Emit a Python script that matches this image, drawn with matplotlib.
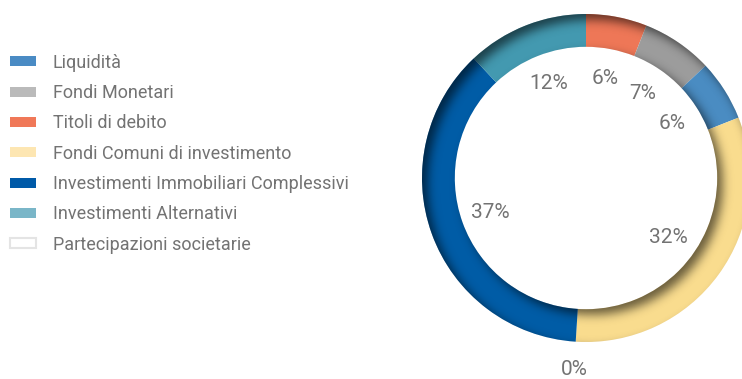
import matplotlib
matplotlib.use("Agg")
import matplotlib.pyplot as plt
import numpy as np
from matplotlib.patches import Rectangle, Wedge

plt.rcParams["font.family"] = ["Roboto", "DejaVu Sans"]

# --------------------------------------------------
# Data
# --------------------------------------------------

legend_labels = [
    "Liquidità",
    "Fondi Monetari",
    "Titoli di debito",
    "Fondi Comuni di investimento",
    "Investimenti Immobiliari Complessivi",
    "Investimenti Alternativi",
    "Partecipazioni societarie",
]
legend_colors = ["#4a8bc4", "#bababa", "#f07858", "#fde6b2",
                 "#005aa8", "#7ab6c8", "#ffffff"]

# ring order, clockwise from 12 o'clock
ring_labels = [
    "Titoli di debito",
    "Fondi Monetari",
    "Liquidità",
    "Fondi Comuni di investimento",
    "Partecipazioni societarie",
    "Investimenti Immobiliari Complessivi",
    "Investimenti Alternativi",
]
ring_values = [6, 7, 6, 32, 0, 37, 12]
ring_colors = ["#ee7757", "#9c9c9c", "#4a8cc2", "#f9dc8e",
               "#ffffff", "#005ca6", "#4399b0"]

W, H = 742, 379
TEXT = "#737373"

fig = plt.figure(figsize=(W / 100, H / 100), dpi=100)

# --------------------------------------------------
# Doughnut
# --------------------------------------------------

cx, cy, R = 586, 178, 164   # pixels
half = 200
ax = fig.add_axes([(cx - half) / W, (H - cy - half) / H, 2 * half / W, 2 * half / H])
lim = half / R

ring_w = 0.2
wedges, _ = ax.pie(
    ring_values,
    colors=ring_colors,
    startangle=90,
    counterclock=False,
    radius=1.0,
    wedgeprops=dict(width=ring_w, linewidth=0),
    frame=True,
)
ax.set_xlim(-lim, lim)
ax.set_ylim(-lim, lim)
ax.axis("off")

# inset shadow: outside of the ring shifted up-left, blurred, clipped to the ring
n = 700
g = np.linspace(-lim, lim, n)
X, Y = np.meshgrid(g, g[::-1])
off = np.array([0.035, -0.035])
rq = np.hypot(X - off[0], Y - off[1])
outside = ((rq > 1.0) | (rq < 1.0 - ring_w)).astype(float)

sigma = 0.03
k = np.exp(-0.5 * ((g[:, None] - g[None, :]) / sigma) ** 2)
k /= k.sum(axis=1, keepdims=True)
shade = k @ outside @ k.T

rgba = np.zeros((n, n, 4))
rgba[..., 3] = np.clip(shade * 0.58, 0, 1)
im = ax.imshow(rgba, extent=(-lim, lim, -lim, lim), zorder=3, interpolation="bilinear")
clip = Wedge((0, 0), 1.0, 0, 360, width=ring_w, transform=ax.transData)
im.set_clip_path(clip)

# percentage labels
total = sum(ring_values)
start = 0.0
for v in ring_values:
    mid = np.deg2rad(90 - 360 * (start + v / 2) / total)
    r = 0.62 if v > 0 else 1.17
    ax.text(r * np.cos(mid), r * np.sin(mid), f"{v}%",
            ha="center", va="center", fontsize=15, color=TEXT, zorder=4)
    start += v

# --------------------------------------------------
# Legend
# --------------------------------------------------

y0, step = 61.3, 30.3
for i, (lab, col) in enumerate(zip(legend_labels, legend_colors)):
    yc = y0 + i * step
    blank = col == "#ffffff"
    fig.patches.append(Rectangle(
        (10 / W, (H - yc - 5) / H), 26 / W, 10 / H,
        facecolor=col, edgecolor="#e4e4e4" if blank else col,
        linewidth=1.5 if blank else 0,
        transform=fig.transFigure, figure=fig,
    ))
    fig.text(53 / W, (H - yc - 6.5) / H, lab, fontsize=13, color=TEXT,
             ha="left", va="baseline")

fig.savefig("out.png", dpi=100)
